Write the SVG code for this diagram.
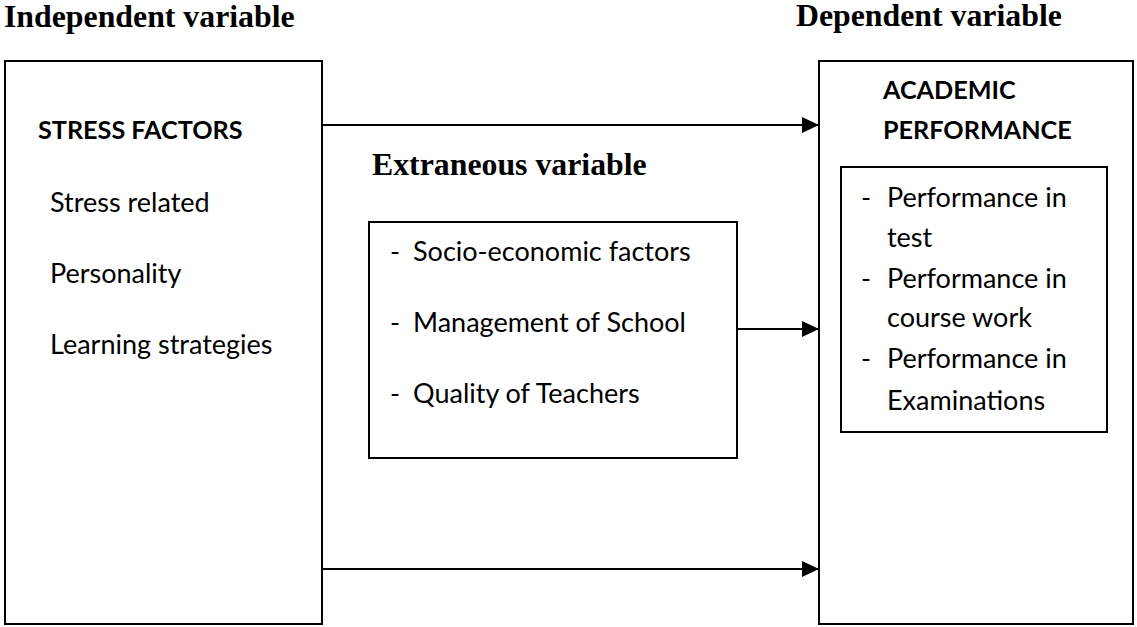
<svg xmlns="http://www.w3.org/2000/svg" width="1137" height="627" viewBox="0 0 1137 627">
  <style>
    .box { fill: #ffffff; stroke: #000000; stroke-width: 2; }
    .link { stroke: #000000; stroke-width: 2; fill: none; marker-end: url(#arrow); }
    .heading { font-family: "Liberation Serif", "Times New Roman", serif; font-weight: bold; font-size: 31.8px; fill: #000000; }
    .title { font-family: Lato, "Liberation Sans", sans-serif; font-weight: bold; font-size: 25.2px; fill: #000000; }
    .item { font-family: Lato, "Liberation Sans", sans-serif; font-size: 27px; fill: #000000; }
  </style>
  <defs>
    <marker id="arrow" markerWidth="18" markerHeight="16" refX="17" refY="8" orient="auto" markerUnits="userSpaceOnUse">
      <path d="M0,0 L17,8 L0,16 Z" fill="#000000"/>
    </marker>
  </defs>

  <rect width="1137" height="627" fill="#ffffff"/>

  <!-- Column headings -->
  <text class="heading" x="4" y="27">Independent variable</text>
  <text class="heading" x="796" y="26">Dependent variable</text>

  <!-- Independent variable block -->
  <g id="stress-factors">
    <rect class="box" x="5" y="61" width="317" height="563"/>
    <text class="title" x="38" y="139">STRESS FACTORS</text>
    <text class="item" x="50" y="212">Stress related</text>
    <text class="item" x="50" y="283">Personality</text>
    <text class="item" x="50" y="354">Learning strategies</text>
  </g>

  <!-- Extraneous variable block -->
  <g id="extraneous">
    <text class="heading" x="372" y="175">Extraneous variable</text>
    <rect class="box" x="369" y="222" width="368" height="236"/>
    <text class="item" x="390" y="261">-</text>
    <text class="item" x="413" y="261">Socio-economic factors</text>
    <text class="item" x="390" y="332">-</text>
    <text class="item" x="413" y="332">Management of School</text>
    <text class="item" x="390" y="403">-</text>
    <text class="item" x="413" y="403">Quality of Teachers</text>
  </g>

  <!-- Dependent variable block -->
  <g id="academic-performance">
    <rect class="box" x="819" y="61" width="314" height="563"/>
    <text class="title" x="883" y="99">ACADEMIC</text>
    <text class="title" x="883" y="139">PERFORMANCE</text>
    <rect class="box" x="841" y="167" width="266" height="265"/>
    <text class="item" x="861" y="207">-</text>
    <text class="item" x="887" y="207">Performance in</text>
    <text class="item" x="887" y="247">test</text>
    <text class="item" x="861" y="288">-</text>
    <text class="item" x="887" y="288">Performance in</text>
    <text class="item" x="887" y="327">course work</text>
    <text class="item" x="861" y="368">-</text>
    <text class="item" x="887" y="368">Performance in</text>
    <text class="item" x="887" y="410">Examinations</text>
  </g>

  <!-- Connectors -->
  <g id="connectors">
    <line class="link" x1="322" y1="125" x2="819" y2="125"/>
    <line class="link" x1="737" y1="329" x2="819" y2="329"/>
    <line class="link" x1="322" y1="569" x2="819" y2="569"/>
  </g>
</svg>
